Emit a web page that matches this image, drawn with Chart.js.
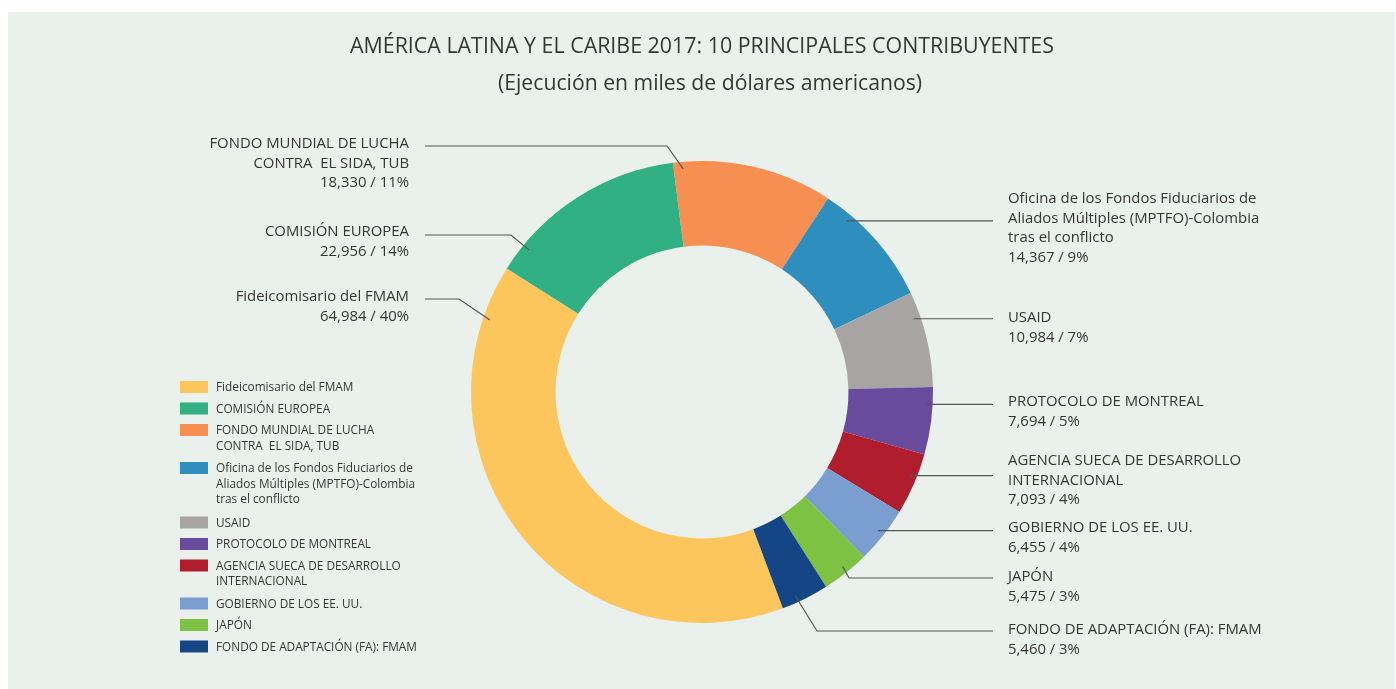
<!DOCTYPE html>
<html>
<head>
<meta charset="utf-8">
<script src="https://cdn.jsdelivr.net/npm/chart.js@4/dist/chart.umd.min.js"></script>
<style>
  html, body { margin: 0; padding: 0; background: #ffffff; }
  #wrap { width: 1396px; height: 689px; position: relative; }
</style>
</head>
<body>
<div id="wrap"><canvas id="myChart"></canvas></div>
<script>
// Chart text
var title = "AMÉRICA LATINA Y EL CARIBE 2017: 10 PRINCIPALES CONTRIBUYENTES";
var subtitle = "(Ejecución en miles de dólares americanos)";

// Contributors (each entry = lines of the label)
var categories = [
  ["Fideicomisario del FMAM"],
  ["COMISIÓN EUROPEA"],
  ["FONDO MUNDIAL DE LUCHA", "CONTRA  EL SIDA, TUB"],
  ["Oficina de los Fondos Fiduciarios de", "Aliados Múltiples (MPTFO)-Colombia", "tras el conflicto"],
  ["USAID"],
  ["PROTOCOLO DE MONTREAL"],
  ["AGENCIA SUECA DE DESARROLLO", "INTERNACIONAL"],
  ["GOBIERNO DE LOS EE. UU."],
  ["JAPÓN"],
  ["FONDO DE ADAPTACIÓN (FA): FMAM"]
];

// Execution, thousands of USD
var values = [64984, 22956, 18330, 14367, 10984, 7694, 7093, 6455, 5475, 5460];

var colors = ["#fdc65d", "#31b086", "#f68f51", "#2e8ebd", "#a6a5a3",
              "#684b9d", "#b01e2e", "#7a9ecf", "#7dc243", "#144685"];

// callout layout: side, first text baseline, leader line y, position along slice, elbow x
var callouts = [
  { side: "L", textY: 301, lineY: 299, t: 0.905, elbowX: 459 },
  { side: "L", textY: 236, lineY: 235, t: 0.14, elbowX: 511 },
  { side: "L", textY: 148, lineY: 146, t: 0.06, elbowX: 667 },
  { side: "R", textY: 203, lineY: null, t: 0.226, elbowX: null },
  { side: "R", textY: 322, lineY: null, t: 0.26, elbowX: null },
  { side: "R", textY: 406, lineY: null, t: 0.26, elbowX: null },
  { side: "R", textY: 465, lineY: null, t: 0.40, elbowX: null },
  { side: "R", textY: 532, lineY: null, t: 0.49, elbowX: null },
  { side: "R", textY: 581, lineY: 578, t: 0.47, elbowX: 849 },
  { side: "R", textY: 634, lineY: 631, t: 0.66, elbowX: 817 }
];

var FONT = "'Open Sans', 'Noto Sans', sans-serif";
var TEXT = "#363636";

var total = values.reduce(function (a, b) { return a + b; }, 0);

function valueLabel(i) {
  return values[i].toLocaleString("en-US") + " / " + Math.round(values[i] / total * 100) + "%";
}

var decorPlugin = {
  id: "decor",
  beforeDraw: function (chart) {
    var c = chart.ctx;
    c.save();
    c.fillStyle = "#ffffff";
    c.fillRect(0, 0, chart.width, chart.height);
    c.fillStyle = "#eaf0ec";
    c.fillRect(8, 12, chart.width - 9, chart.height - 12);
    c.restore();
  },
  afterDraw: function (chart) {
    var c = chart.ctx;
    var meta = chart.getDatasetMeta(0);
    c.save();

    // titles
    c.fillStyle = TEXT;
    c.textAlign = "center";
    c.textBaseline = "alphabetic";
    c.font = "21.4px " + FONT;
    c.fillText(title, 702, 53);
    c.font = "21.2px " + FONT;
    c.fillText(subtitle, 710, 90);

    // callouts with leader lines
    c.strokeStyle = "#555555";
    c.lineWidth = 1.2;
    meta.data.forEach(function (arc, i) {
      var co = callouts[i];
      var p = arc.getProps(["x", "y", "startAngle", "endAngle", "outerRadius"], true);
      var a = p.startAngle + co.t * (p.endAngle - p.startAngle);
      var r = p.outerRadius - 7;
      var ax = p.x + r * Math.cos(a);
      var ay = p.y + r * Math.sin(a);
      var ly = co.lineY == null ? ay : co.lineY;
      var endX = co.side === "L" ? 425 : 993;
      c.beginPath();
      c.moveTo(ax, ay);
      if (co.elbowX != null) c.lineTo(co.elbowX, ly);
      c.lineTo(endX, ly);
      c.stroke();

      var lines = categories[i].concat([valueLabel(i)]);
      c.font = "14.9px " + FONT;
      c.fillStyle = TEXT;
      c.textAlign = co.side === "L" ? "right" : "left";
      var tx = co.side === "L" ? 409 : 1008;
      lines.forEach(function (s, k) {
        c.fillText(s, tx, co.textY + k * 19.6);
      });
    });

    // legend
    var top = 381;
    c.font = "11.8px " + FONT;
    c.textAlign = "left";
    categories.forEach(function (lines, i) {
      c.fillStyle = colors[i];
      c.fillRect(180, top, 28, 12);
      c.fillStyle = TEXT;
      lines.forEach(function (s, k) {
        c.fillText(s, 216, top + 10 + k * 15.7);
      });
      top += 21.5 + (lines.length - 1) * 16.5;
    });
    c.restore();
  }
};

var ctx = document.getElementById("myChart").getContext("2d");

var myChart = new Chart(ctx, {
  type: "doughnut",
  data: {
    labels: categories.map(function (l) { return l.join(" "); }),
    datasets: [{
      data: values,
      backgroundColor: colors,
      borderWidth: 0
    }]
  },
  options: {
    responsive: true,
    maintainAspectRatio: false,
    animation: false,
    rotation: 159.5,
    cutout: "63.4%",
    layout: { padding: { left: 471, right: 463, top: 161, bottom: 66 } },
    plugins: {
      legend: { display: false },
      tooltip: { enabled: false }
    }
  },
  plugins: [decorPlugin]
});
</script>
</body>
</html>
